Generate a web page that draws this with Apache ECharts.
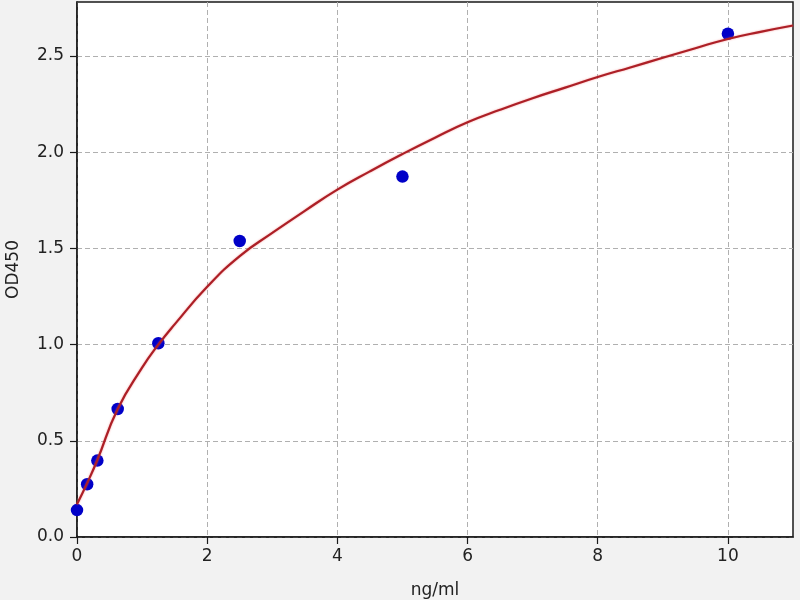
<!DOCTYPE html>
<html>
<head>
<meta charset="utf-8">
<script src="https://cdn.jsdelivr.net/npm/echarts@6/dist/echarts.min.js"></script>
<style>
html,body{margin:0;padding:0;background:#f2f2f2;}
#c{width:800px;height:600px;}
</style>
</head>
<body>
<div id="c"></div>
<script>
// Measured standards (ng/ml, OD450)
const pointX = [0, 0.156, 0.3125, 0.625, 1.25, 2.5, 5, 10];
const pointY = [0.140, 0.274, 0.397, 0.665, 1.007, 1.538, 1.873, 2.615];
// Fitted curve
const curveX = [0, 0.156, 0.3125, 0.625, 1, 1.25, 1.5, 2, 2.5, 3, 3.5, 4, 4.5, 5, 5.5, 6, 6.5, 7, 7.5, 8, 8.5, 9, 9.5, 10, 10.5, 11];
const curveY = [0.17, 0.28, 0.40, 0.665, 0.88, 1.0, 1.105, 1.30, 1.46, 1.58, 1.695, 1.805, 1.90, 1.99, 2.075, 2.155, 2.22, 2.28, 2.335, 2.39, 2.44, 2.49, 2.54, 2.588, 2.625, 2.658];
const xTicks = [0, 2, 4, 6, 8, 10];
const yTicks = [0, 0.5, 1.0, 1.5, 2.0, 2.5];

const chart = echarts.init(document.getElementById('c'));
const font = 'DejaVu Sans';
chart.setOption({
  animation: false,
  backgroundColor: '#f2f2f2',
  grid: {
    left: 77, right: 7, top: 2, bottom: 63,
    outerBoundsMode: 'none', containLabel: false,
    show: true, backgroundColor: '#ffffff',
    borderColor: '#1a1a1a', borderWidth: 1.5
  },
  xAxis: {
    type: 'value', min: 0, max: 11, interval: 2,
    name: 'ng/ml', nameLocation: 'middle', nameGap: 45,
    nameTextStyle: {fontFamily: font, fontSize: 17, color: '#222'},
    axisLine: {show: true, onZero: false, lineStyle: {color: '#1a1a1a', width: 1.5}},
    axisTick: {show: true, length: 7, lineStyle: {color: '#1a1a1a', width: 1.2}, customValues: xTicks},
    axisLabel: {fontFamily: font, fontSize: 17, color: '#222', margin: 11, customValues: xTicks,
      formatter: v => String(v)},
    splitLine: {show: true, lineStyle: {color: '#b0b0b0', width: 1, type: [5, 3]}}
  },
  yAxis: {
    type: 'value', min: 0, max: 2.78, interval: 0.5,
    name: 'OD450', nameLocation: 'middle', nameGap: 55,
    nameTextStyle: {fontFamily: font, fontSize: 17, color: '#222'},
    axisLine: {show: true, onZero: false, lineStyle: {color: '#1a1a1a', width: 1.5}},
    axisTick: {show: true, length: 7, lineStyle: {color: '#1a1a1a', width: 1.2}, customValues: yTicks},
    axisLabel: {fontFamily: font, fontSize: 17, color: '#222', margin: 13, customValues: yTicks,
      formatter: v => v.toFixed(1)},
    splitLine: {show: true, lineStyle: {color: '#b0b0b0', width: 1, type: [5, 3]}}
  },
  series: [
    {
      type: 'scatter', z: 2,
      data: pointX.map((x, i) => [x, pointY[i]]),
      symbolSize: 12.5,
      itemStyle: {color: '#0000c8', opacity: 1},
      clip: false
    },
    {
      type: 'line', z: 3,
      data: curveX.map((x, i) => [x, curveY[i]]),
      smooth: 0.5, showSymbol: false, symbol: 'none',
      lineStyle: {color: '#ac1f26', width: 2.2, opacity: 1, shadowColor: 'rgba(240,90,90,0.6)', shadowBlur: 2}
    }
  ]
});
</script>
</body>
</html>
